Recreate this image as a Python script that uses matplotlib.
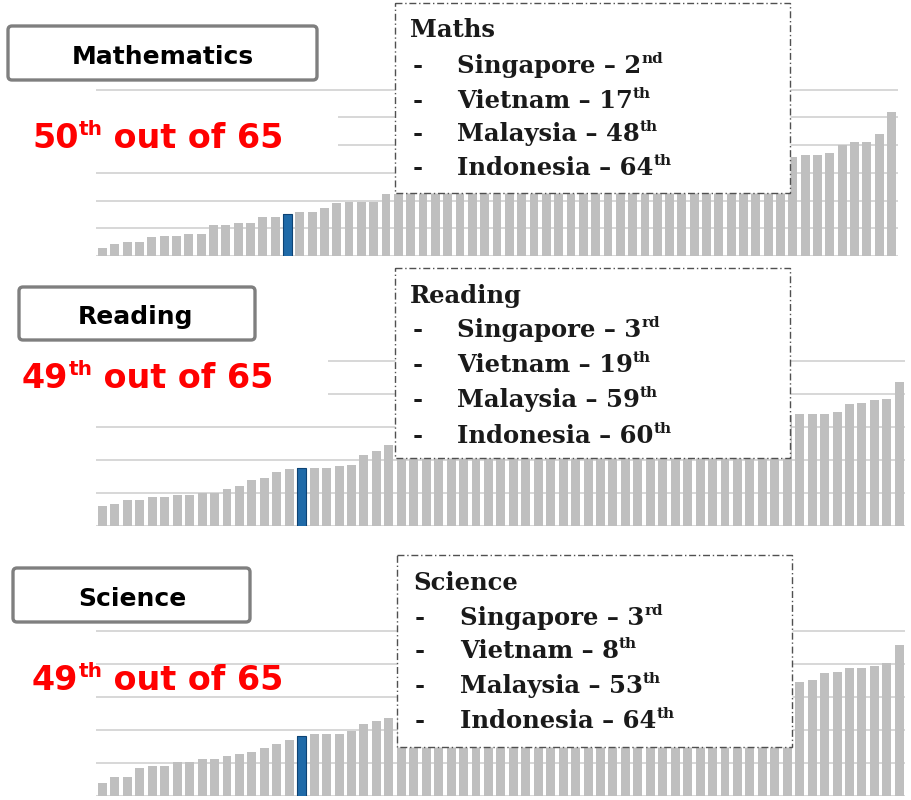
import numpy as np
import matplotlib
matplotlib.use("Agg")
import matplotlib.pyplot as plt
from matplotlib.patches import Rectangle, FancyBboxPatch

## donnees (scores PISA, du plus faible au meilleur)
math_scores = [364, 371, 375, 375, 384, 386, 386, 389, 389, 405, 405, 409, 409,
               420, 421, 425, 430, 430, 437, 445, 448, 448, 448, 462, 462,
               471, 477, 478, 479, 481, 482, 482, 484, 485, 487, 489, 490, 491,
               493, 494, 495, 499, 500, 500, 501, 501, 504, 506, 511, 514, 515,
               518, 518, 519, 521, 523,
               529, 532, 532, 536, 550, 555, 555, 570, 609]
reading_scores = [380, 384, 390, 390, 394, 394, 397, 397, 400, 400, 406, 410, 420,
                  422, 432, 436, 438, 438, 438, 440, 442, 458, 464, 472, 472,
                  477, 477, 481, 483, 483, 485, 486, 488, 488, 488, 488, 489, 490,
                  490, 493, 496, 498, 499, 504, 505, 508, 508, 509, 509, 509, 511,
                  512, 512, 516, 516, 518,
                  520, 520, 520, 522, 534, 536, 541, 542, 568]
science_scores = [369, 379, 379, 392, 396, 396, 401, 402, 406, 406, 411, 414, 416,
                  422, 428, 435, 440, 443, 443, 443, 448, 459, 464, 468, 470,
                  471, 478, 485, 486, 489, 491, 491, 494, 494, 495, 496, 496, 497,
                  498, 499, 502, 505, 506, 508, 514, 514, 515, 516, 521, 521, 522,
                  522, 523, 524, 525, 525,
                  522, 525, 536, 538, 544, 544, 547, 551, 578]
rank_thai = [50, 49, 49]
subjects = ["Mathematics", "Reading", "Science"]
box_titles = ["Maths", "Reading", "Science"]
countries = ["Singapore", "Vietnam", "Malaysia", "Indonesia"]
ranks = [["2", "17", "48", "64"], ["3", "19", "59", "60"], ["3", "8", "53", "64"]]
suffixes = [["nd", "th", "th", "th"], ["rd", "th", "th", "th"], ["rd", "th", "th", "th"]]

W, H = 912, 800
fig = plt.figure(figsize=(W / 100, H / 100), dpi=100)

def panel(scores, blue, bottom, top, right, ymax):
    ax = fig.add_axes([96.3 / W, 1 - bottom / H, (right - 96.3) / W, (bottom - top) / H])
    x = np.arange(len(scores))
    colors = ['#bfbfbf'] * len(scores)
    colors[blue] = '#1f6aa8'
    ax.bar(x, scores, width=0.72, color=colors, zorder=2)
    ax.bar(x[blue], scores[blue], width=0.72, color='#1f6aa8', edgecolor='#0d4374',
           linewidth=0.8, zorder=3)
    ax.set_xlim(-0.5, len(scores) - 0.5)
    ax.set_ylim(350, ymax + 1)
    ax.set_yticks(range(350, ymax + 1, 50))
    ax.yaxis.grid(True, color='#d4d4d4', linewidth=1.3, zorder=0)
    ax.set_axisbelow(True)
    for s in ax.spines.values():
        s.set_visible(False)
    ax.tick_params(left=False, bottom=False, labelleft=False, labelbottom=False)
    return ax

panel(math_scores, 65 - rank_thai[0], 256, 89, 897.7, 650)
panel(reading_scores, 65 - rank_thai[1], 526, 360, 905.5, 600)
panel(science_scores, 65 - rank_thai[2], 796, 630, 905.5, 600)

# calque en coordonnees pixels pour les boites et les textes
ov = fig.add_axes([0, 0, 1, 1], zorder=10)
ov.set_xlim(0, W)
ov.set_ylim(H, 0)
ov.axis('off')
ov.patch.set_alpha(0)
renderer = fig.canvas.get_renderer()

def sup_text(x, y, base, sup, fs, sfs, rise, **kw):
    # texte suivi d'un exposant place a la main
    t = ov.text(x, y, base, ha='left', va='baseline', fontsize=fs, **kw)
    x1 = t.get_window_extent(renderer).x1
    t2 = ov.text(x1, y - rise, sup, ha='left', va='baseline', fontsize=sfs, **kw)
    return t2.get_window_extent(renderer).x1

# fonds blancs derriere les textes rouges (maths et lecture)
ov.add_patch(Rectangle((0, 95), 338, 70, fc='white', ec='none'))
ov.add_patch(Rectangle((0, 348), 328, 64, fc='white', ec='none'))

# boites des matieres
title_boxes = [(8, 26, 309, 54), (19, 287, 236, 53), (13, 568, 237, 54)]
title_text = [(163, 64), (136, 324), (132, 606)]
for i in range(3):
    x0, y0, w, h = title_boxes[i]
    ov.add_patch(FancyBboxPatch((x0, y0), w, h, boxstyle='round,pad=0,rounding_size=4',
                                fc='white', ec='#7f7f7f', lw=2.4))
    ov.text(title_text[i][0], title_text[i][1], subjects[i], ha='center', va='baseline',
            fontsize=18, fontweight='bold', family='DejaVu Sans', color='black')

# rang en rouge
red_pos = [(32, 148), (22, 388), (32, 690)]
red = dict(fontweight='bold', family='DejaVu Sans', color='#ff0000')
for i in range(3):
    xe = sup_text(red_pos[i][0], red_pos[i][1], str(rank_thai[i]), 'th', 24, 14.5, 13, **red)
    ov.text(xe, red_pos[i][1], ' out of 65', ha='left', va='baseline', fontsize=24, **red)

# boites d'information
info_boxes = [(395, 3, 395, 190), (395, 268, 395, 190), (397, 555, 395, 192)]
header_pos = [(410, 37), (410, 303), (413, 590)]
item_y = [[73, 108, 141, 175], [337, 372, 407, 443], [625, 658, 693, 728]]
dash_x = [413, 413, 415]
name_x = [457, 457, 460]
serif = dict(fontweight='bold', family='DejaVu Serif', color='#1a1a1a')
for i in range(3):
    x0, y0, w, h = info_boxes[i]
    ov.add_patch(Rectangle((x0, y0), w, h, fc='white', ec='#505050', lw=1.0,
                           ls=(0, (5, 2, 1, 2))))
    ov.text(header_pos[i][0], header_pos[i][1], box_titles[i], ha='left', va='baseline',
            fontsize=17.5, **serif)
    for j in range(4):
        ov.text(dash_x[i], item_y[i][j], '-', ha='left', va='baseline', fontsize=17.5, **serif)
        sup_text(name_x[i], item_y[i][j], countries[j] + ' \u2013 ' + ranks[i][j],
                 suffixes[i][j], 17.5, 11, 10, **serif)

fig.savefig('out.png', dpi=100)
